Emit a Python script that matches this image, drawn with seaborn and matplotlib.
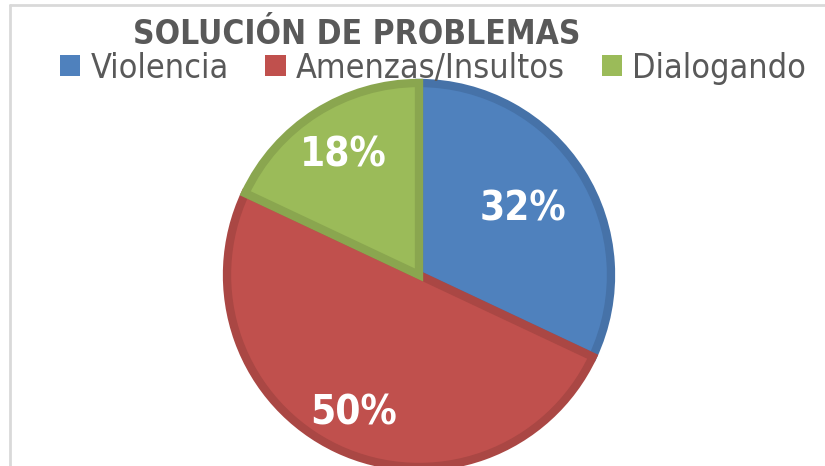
import matplotlib.pyplot as plt
import numpy as np
import seaborn as sns
from matplotlib.lines import Line2D
from matplotlib.patches import Patch

sns.set_theme(style="white")
plt.rcParams["font.family"] = ["DejaVu Sans"]
plt.rcParams["font.stretch"] = "condensed"

# data
categories = ["Violencia", "Amenzas/Insultos", "Dialogando"]
values = [32, 50, 18]
colors = ["#4F81BD", "#C0504D", "#9BBB59"]
edge_colors = ["#4672A8", "#AA4744", "#8AA64F"]
label_dist = [0.64, 0.80, 0.74]

fig = plt.figure(figsize=(8.25, 4.66), dpi=100)
ax = fig.add_axes([0, 0, 1, 1])

cx, cy, r = 419, 466 - 275, 192
wedges, _ = ax.pie(
    values,
    colors=colors,
    startangle=90,
    counterclock=False,
    center=(cx, cy),
    radius=r,
    frame=True,
    wedgeprops=dict(linewidth=6),
)
for w, ec in zip(wedges, edge_colors):
    w.set_edgecolor(ec)

ax.set_xlim(0, 825)
ax.set_ylim(0, 466)
ax.set_aspect("equal")
ax.axis("off")

for w, v, d in zip(wedges, values, label_dist):
    ang = np.deg2rad((w.theta1 + w.theta2) / 2)
    ax.text(cx + d * r * np.cos(ang), cy + d * r * np.sin(ang), f"{v}%",
            ha="center", va="center", color="white", fontsize=29,
            fontweight="bold")

fig.text(357, 466 - 34, "SOLUCIÓN DE PROBLEMAS", transform=None,
         ha="center", va="center", fontsize=24, fontweight="bold",
         color="#595959")

handles = [Patch(facecolor=c, edgecolor="none") for c in colors]
leg = fig.legend(handles, categories, loc="center", ncol=3,
                 bbox_to_anchor=(433 / 825, 1 - 68 / 466), frameon=False,
                 fontsize=24.5, handlelength=0.6, handleheight=0.6,
                 handletextpad=0.3, columnspacing=1.08,
                 borderpad=0, borderaxespad=0)
for t in leg.get_texts():
    t.set_color("#595959")

# light frame on top and left edges
fig.add_artist(Line2D([10 / 825, 1], [1 - 5 / 466, 1 - 5 / 466],
                      color="#D9D9D9", lw=2))
fig.add_artist(Line2D([10 / 825, 10 / 825], [0, 1 - 5 / 466],
                      color="#D9D9D9", lw=2))

fig.savefig("out.png", dpi=100)
